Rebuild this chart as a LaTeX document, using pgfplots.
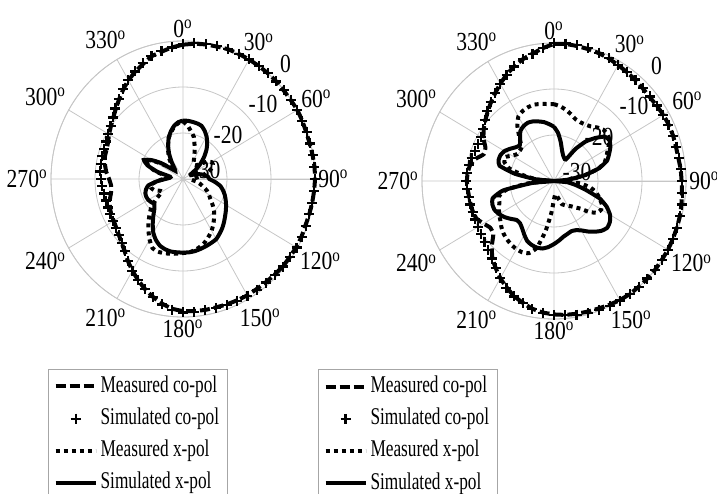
\documentclass[border=0pt]{standalone}
\usepackage{fontspec}
\setmainfont{Liberation Serif}
\newfontfamily\legfont[FakeStretch=0.72]{Liberation Serif}
\newfontfamily\tickfont[FakeStretch=0.83]{Liberation Serif}
\usepackage{pgfplots}
\usepackage{pgfplotstable}
\pgfplotsset{compat=1.18}
\usepgfplotslibrary{polar}

% a = angle (deg, clockwise from top), values in dB
% sc = simulated co-pol, mc = measured co-pol, sx = simulated x-pol, mx = measured x-pol
\pgfplotstableread{
a    sc     mc     sx     mx
0   -0.6   -0.8  -17.3  -17.5
5   -0.4   -0.5  -17.3  -18.3
10  -0.2   -0.3  -17.4  -19.5
15   0.0   -0.2  -17.5  -20.5
20   0.0    0.0  -17.7  -22.3
25   0.0    0.0  -18.4  -23.8
30   0.0    0.0  -19.3  -25
35   0.0    0.0  -20.4  -25.8
40   0.0    0.0  -21.7  -26
45   0.0    0.0  -23.2  -25.8
50   0.0   -0.1  -24.8  -25
55   0.0   -0.1  -26.5  -23.5
60   0.0    0.0  -28    -22.6
65  -0.1   -0.1  -28    -22.5
70  -0.1   -0.2  -27    -23
75  -0.1   -0.2  -26    -24
80   0.0   -0.1  -25    -25.5
85   0.0    0.0  -24.3  -27
90   0.0    0.0  -24    -28
95  -0.1   -0.1  -22.7  -28
100 -0.2   -0.2  -21.4  -27
105 -0.3   -0.3  -20.6  -26
110 -0.3   -0.4  -19.9  -25.1
115 -0.2   -0.3  -19.3  -24
120 -0.2   -0.3  -18.7  -23.2
125 -0.3   -0.4  -18.1  -22.4
130 -0.4   -0.4  -17.5  -21.2
135 -0.5   -0.6  -16.8  -20
140 -0.6   -0.7  -16.1  -19
145 -0.6   -0.8  -15.5  -18
150 -0.7   -0.8  -14.9  -17
155 -0.8   -0.9  -14.7  -16.2
160 -0.9   -1.0  -14.5  -15.4
165 -1.0   -1.1  -14.3  -14.8
170 -1.0   -1.1  -14.1  -14.3
175 -1.0   -1.2  -14.0  -14.0
180 -1.0   -1.3  -14.0  -13.9
185 -1.5   -1.7  -14.0  -13.7
190 -2.3   -2.5  -14.0  -13.5
195 -3.4   -3.5  -14.2  -13.3
200 -4.5   -4.6  -14.6  -13.2
205 -5.7   -5.8  -15.4  -13.5
210 -7.0   -7.0  -16.5  -14.8
215 -8.3   -8.2  -18.0  -16.3
220 -9.5   -9.4  -19.5  -17.8
225 -10.4  -10.3 -20.8  -19.3
230 -11.0  -11.0 -21.5  -20.7
235 -11.4  -11.5 -21.2  -22.8
240 -11.6  -11.8 -20.9  -24.5
245 -11.8  -12.0 -20.8  -24
250 -11.9  -12.3 -20.9  -23
255 -11.9  -12.8 -21.3  -22.5
260 -11.8  -13.4 -22    -22.5
265 -11.6  -13.6 -24    -24
270 -11.4  -13.2 -26    -25.5
275 -11.1  -12.5 -27    -26.5
280 -11.0  -12.0 -27    -26
285 -10.9  -11.6 -24    -23.5
290 -10.9  -11.5 -21.5  -21.8
295 -10.7  -11.2 -20.2  -20.5
300 -10.3  -10.6 -21.8  -22
305 -9.9   -10.0 -24    -24.5
310 -9.2   -9.3  -26.5  -26
315 -8.3   -8.4  -27.5  -26.5
320 -7.3   -7.4  -27    -26
325 -6.2   -6.3  -25.5  -24.5
330 -5.1   -5.2  -23.7  -23.3
335 -4.2   -4.3  -22    -22
340 -3.2   -3.4  -20.5  -20.5
345 -2.3   -2.4  -19.3  -19.5
350 -1.8   -1.9  -18.3  -18.5
355 -1.3   -1.3  -17.6  -17.8
360 -0.6   -0.8  -17.3  -17.5
}\leftdata

\pgfplotstableread{
a    sc     mc     sx     mx
0    0.0   -0.2  -18.2  -13.3
5    0.0   -0.1  -19.5  -13.7
10   0.0   -0.2  -21.3  -14.3
15  -0.1   -0.3  -23    -15
20  -0.3   -0.4  -24    -15.7
25  -0.5   -0.6  -24.5  -15.9
30  -0.8   -0.9  -24.6  -15.8
35  -1.0   -1.1  -21.5  -15.5
40  -1.2   -1.3  -18.8  -14.8
45  -1.3   -1.5  -16.8  -14.2
50  -1.4   -1.6  -15.0  -14.2
55  -1.4   -1.5  -14.6  -14.6
60  -1.3   -1.3  -15.2  -15.8
65  -1.3   -1.2  -16.2  -16.8
70  -1.2   -1.2  -17.2  -17.7
75  -1.2   -1.3  -19.5  -19.5
80  -1.1   -1.3  -23    -23
85  -1.0   -1.1  -27    -27
90  -0.9   -1.0  -30    -28
95  -0.7   -0.8  -27    -24
100 -0.5   -0.6  -25    -21.5
105 -0.3   -0.4  -22.5  -20
110 -0.2   -0.3  -19    -19
115 -0.1   -0.2  -16.8  -18
120  0.0   -0.1  -15.3  -17.6
125  0.0   -0.1  -14.5  -18
130  0.0    0.0  -14.2  -19.5
135  0.0    0.0  -14.7  -21.5
140  0.0    0.0  -15.6  -22.5
145  0.0    0.0  -16.6  -23.3
150  0.0   -0.1  -17.6  -23.8
155 -0.1   -0.3  -18.2  -24.2
160 -0.2   -0.5  -18.4  -24.6
165 -0.3   -0.6  -18.1  -26
170 -0.5   -0.7  -17.7  -27
175 -0.7   -0.8  -17    -27
180 -0.9   -1.0  -16.3  -26
185 -1.2   -1.3  -15.6  -23
190 -1.7   -1.8  -15.1  -19
195 -2.5   -2.6  -15    -15
200 -3.3   -3.4  -15.2  -13.3
205 -4.4   -4.5  -15.6  -12.9
210 -5.6   -5.6  -16.5  -12.9
215 -6.9   -6.9  -17.4  -13.1
220 -8.0   -8.2  -18    -13.4
225 -8.8   -10   -18    -13.8
230 -9.4   -12   -17.2  -14.4
235 -9.8   -12.3 -16.3  -15.1
240 -10.1  -11.5 -15.6  -15.6
245 -10.2  -10.6 -15.1  -16.2
250 -10.3  -10.4 -15.1  -16.8
255 -10.3  -10.4 -15.6  -17
260 -10.3  -10.4 -18.3  -19
265 -10.2  -10.3 -25    -24
270 -10.1  -10.2 -30    -29
275 -10.2  -10.3 -26    -26
280 -10.4  -10.6 -21    -23
285 -10.6  -11.5 -17.2  -19.5
290 -10.9  -13   -16.6  -18
295 -11.0  -12.8 -16.6  -17.7
300 -10.8  -11.5 -17    -19
305 -10.3  -10.5 -17.8  -19.8
310 -9.5   -9.6  -18.6  -19.8
315 -8.6   -8.7  -19    -19.6
320 -7.6   -7.7  -18    -17.8
325 -6.6   -6.7  -16.7  -15.5
330 -5.6   -5.6  -16.2  -13.8
335 -4.5   -4.5  -16    -13.2
340 -3.5   -3.5  -16.2  -12.9
345 -2.6   -2.6  -16.6  -12.8
350 -1.9   -1.9  -17    -13
355 -0.9   -1.0  -17.6  -13.2
360  0.0   -0.2  -18.2  -13.3
}\rightdata

\newcommand{\dg}[1]{#1\textsuperscript{o}}
\tikzset{rlab/.style={font=\tickfont\fontsize{13}{13}\selectfont}}

\pgfplotsset{
  mypolar/.style={
    scale only axis, width=132pt, height=138pt,
    ymin=0, ymax=30,
    xtick={0,30,...,330},
    xticklabels={\dg{90},\dg{60},\dg{30},\dg{0},\dg{330},\dg{300},\dg{270},\dg{240},\dg{210},\dg{180},\dg{150},\dg{120}},
    ytick={10,20,30}, yticklabels={,,},
    xticklabel style={font=\tickfont\fontsize{13}{13}\selectfont, inner sep=1.5pt},
    major tick length=0pt,
    grid=major,
    major grid style={draw=gray!45, line width=0.4pt},
    axis line style={draw=gray!45, line width=0.4pt},
    clip=false,
    legend cell align=left,
    legend style={draw=gray!70, line width=0.5pt, fill=white,
      font=\legfont\fontsize{12}{12}\selectfont,
      nodes={inner sep=1.5pt, text height=8.5pt, text depth=2.6pt},
      row sep=2pt, inner xsep=2.5pt, inner ysep=1.5pt},
    legend image code/.code={\draw[mark repeat=2,mark phase=2,##1] plot coordinates {(0pt,0pt) (10pt,0pt) (20pt,0pt)};},
  },
  mcopol/.style={black, line width=2pt, dash pattern=on 5pt off 2pt, smooth, tension=0.3},
  scopol/.style={black, only marks, mark=+, mark size=2.5pt, mark options={line width=1.1pt}},
  mxpol/.style={black, line width=2pt, dash pattern=on 2pt off 2pt, smooth, tension=0.3},
  sxpol/.style={black, line width=2pt, smooth, tension=0.3},
}

\begin{document}
\begin{tikzpicture}
\useasboundingbox (0,0) rectangle (358.5pt,246.5pt);
\begin{polaraxis}[mypolar, at={(91.5pt,157pt)}, anchor=center,
  legend style={at={(-0.011,-0.188)}, anchor=north west}]
  \node[rlab] at (axis cs:21,5.6) {-30};
  \addplot[mcopol] table[x expr=90-\thisrow{a}, y expr=\thisrow{mc}+30]{\leftdata};
  \addlegendentry{Measured co-pol}
  \addplot[scopol] table[x expr=90-\thisrow{a}, y expr=\thisrow{sc}+30]{\leftdata};
  \addlegendentry{Simulated co-pol}
  \addplot[mxpol] table[x expr=90-\thisrow{a}, y expr=\thisrow{mx}+30]{\leftdata};
  \addlegendentry{Measured x-pol}
  \addplot[sxpol] table[x expr=90-\thisrow{a}, y expr=\thisrow{sx}+30]{\leftdata};
  \addlegendentry{Simulated x-pol}
  \node[rlab] at (axis cs:47,34.2) {0};
  \node[rlab] at (axis cs:42,24.5) {-10};
  \node[rlab] at (axis cs:43,14) {-20};
\end{polaraxis}
\begin{polaraxis}[mypolar, at={(277pt,156pt)}, anchor=center,
  legend style={at={(-0.394,-0.181)}, anchor=north west}]
  \node[rlab] at (axis cs:21,5.6) {-30};
  \addplot[mcopol] table[x expr=90-\thisrow{a}, y expr=\thisrow{mc}+30]{\rightdata};
  \addlegendentry{Measured co-pol}
  \addplot[scopol] table[x expr=90-\thisrow{a}, y expr=\thisrow{sc}+30]{\rightdata};
  \addlegendentry{Simulated co-pol}
  \addplot[mxpol] table[x expr=90-\thisrow{a}, y expr=\thisrow{mx}+30]{\rightdata};
  \addlegendentry{Measured x-pol}
  \addplot[sxpol] table[x expr=90-\thisrow{a}, y expr=\thisrow{sx}+30]{\rightdata};
  \addlegendentry{Simulated x-pol}
  \node[rlab] at (axis cs:47,34.2) {0};
  \node[rlab] at (axis cs:42,24.5) {-10};
  \node[rlab] at (axis cs:43,14) {-20};
\end{polaraxis}
\end{tikzpicture}
\end{document}
